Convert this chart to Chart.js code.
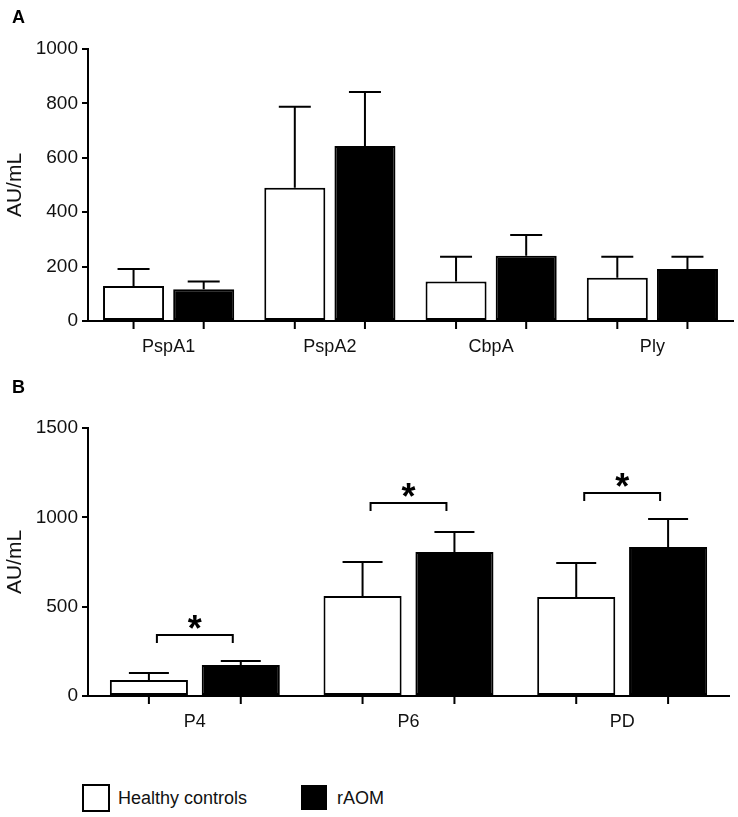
<!DOCTYPE html>
<html>
<head>
<meta charset="utf-8">
<script src="https://cdn.jsdelivr.net/npm/chart.js@4"></script>
<style>
    body { margin: 0; background: #fff; width: 738px; height: 817px; position: relative; overflow: hidden;
           font-family: "Liberation Sans", Arial, sans-serif; }
    canvas { position: absolute; left: 0; }
    #chartA { top: 0; }
    #chartB { top: 370px; }
    .legend-item { position: absolute; font-size: 18px; color: #111; line-height: 18px; }
    .legend-box { position: absolute; box-sizing: border-box; border: 2px solid #000; }
</style>
</head>
<body>
<canvas id="chartA" width="738" height="380"></canvas>
<canvas id="chartB" width="738" height="400"></canvas>

<div class="legend-box" style="left:82px; top:784px; width:28px; height:28px; background:#fff;"></div>
<div class="legend-item" style="left:118px; top:789px;">Healthy controls</div>
<div class="legend-box" style="left:301px; top:785px; width:26px; height:25px; background:#000;"></div>
<div class="legend-item" style="left:337px; top:789px;">rAOM</div>

<script>
// Panel A
const categoriesA = ['PspA1', 'PspA2', 'CbpA', 'Ply'];
const healthyA = [129, 490, 145, 159];
const raomA = [117, 643, 240, 191];
const healthyErrA = [62, 298, 91, 77];
const raomErrA = [28, 199, 76, 45];
const ticksA = [0, 200, 400, 600, 800, 1000];

// Panel B
const categoriesB = ['P4', 'P6', 'PD'];
const healthyB = [90, 560, 554];
const raomB = [173, 806, 834];
const healthyErrB = [39, 190, 190];
const raomErrB = [23, 112, 156];
const ticksB = [0, 500, 1000, 1500];
// y level of the significance bracket for each group
const sigLevelB = [341, 1080, 1136];

const FONT = '"Liberation Sans", Arial, sans-serif';

// error bars (upper only) + small ticks under each bar + panel letter + brackets
const extras = {
    id: 'extras',
    afterDatasetsDraw(chart, args, opts) {
        const ctx = chart.ctx;
        const y = chart.scales.y;
        const bottom = chart.chartArea.bottom;
        ctx.save();
        ctx.strokeStyle = '#000';
        ctx.lineWidth = 2;
        chart.data.datasets.forEach((ds, i) => {
            const meta = chart.getDatasetMeta(i);
            meta.data.forEach((bar, j) => {
                const top = y.getPixelForValue(ds.data[j] + ds.errors[j]);
                ctx.beginPath();
                ctx.moveTo(bar.x, bar.y);
                ctx.lineTo(bar.x, top);
                ctx.moveTo(bar.x - opts.cap / 2, top);
                ctx.lineTo(bar.x + opts.cap / 2, top);
                // x tick below bar
                ctx.moveTo(bar.x, bottom);
                ctx.lineTo(bar.x, bottom + 8);
                ctx.stroke();
            });
        });

        // significance brackets
        if (opts.sig) {
            const m0 = chart.getDatasetMeta(0), m1 = chart.getDatasetMeta(1);
            opts.sig.forEach((lvl, j) => {
                const x0 = m0.data[j].x + 8, x1 = m1.data[j].x - 8;
                const yy = y.getPixelForValue(lvl);
                ctx.beginPath();
                ctx.moveTo(x0, yy + 8);
                ctx.lineTo(x0, yy);
                ctx.lineTo(x1, yy);
                ctx.lineTo(x1, yy + 8);
                ctx.stroke();
                ctx.fillStyle = '#000';
                ctx.font = 'bold 36px ' + FONT;
                ctx.textAlign = 'center';
                ctx.textBaseline = 'alphabetic';
                ctx.fillText('*', (x0 + x1) / 2, yy + 6);
            });
        }

        ctx.fillStyle = '#000';
        ctx.font = 'bold 18px ' + FONT;
        ctx.textAlign = 'left';
        ctx.textBaseline = 'top';
        ctx.fillText(opts.letter, 12, 9);
        ctx.restore();
    }
};

function makeChart(id, cats, h, r, he, re, ticks, cfg) {
    return new Chart(document.getElementById(id), {
        type: 'bar',
        data: {
            labels: cats,
            datasets: [
                { label: 'Healthy controls', data: h, errors: he, backgroundColor: '#fff' },
                { label: 'rAOM', data: r, errors: re, backgroundColor: '#000' }
            ]
        },
        options: {
            responsive: false,
            animation: false,
            layout: { padding: { top: cfg.top, right: cfg.right, left: 0, bottom: 0 } },
            datasets: {
                bar: {
                    borderColor: '#000',
                    borderWidth: 2,
                    borderSkipped: false,
                    categoryPercentage: cfg.cp,
                    barPercentage: cfg.bp
                }
            },
            plugins: {
                legend: { display: false },
                tooltip: { enabled: false },
                extras: { cap: cfg.cap, letter: cfg.letter, sig: cfg.sig }
            },
            scales: {
                x: {
                    afterFit: (s) => { s.height = cfg.xh; },
                    grid: { display: false },
                    border: { display: true, color: '#000', width: 2 },
                    ticks: { color: '#111', font: { size: 18, family: FONT }, padding: 7 }
                },
                y: {
                    min: 0,
                    max: ticks[ticks.length - 1],
                    afterFit: (s) => { s.width = 88; },
                    afterBuildTicks: (s) => { s.ticks = ticks.map(v => ({ value: v })); },
                    grid: { drawOnChartArea: false, drawTicks: true, tickLength: 6, color: '#000', lineWidth: 2 },
                    border: { display: true, color: '#000', width: 2 },
                    ticks: {
                        color: '#111', font: { size: 19, family: FONT }, padding: 4,
                        callback: (v) => String(v)
                    },
                    title: {
                        display: true, text: 'AU/mL', color: '#111',
                        font: { size: 21, family: FONT }, padding: { top: 3, bottom: 0 }
                    }
                }
            }
        },
        plugins: [extras]
    });
}

makeChart('chartA', categoriesA, healthyA, raomA, healthyErrA, raomErrA, ticksA,
    { top: 49, right: 5, xh: 59, cp: 0.87, bp: 0.87, cap: 32, letter: 'A' });
makeChart('chartB', categoriesB, healthyB, raomB, healthyErrB, raomErrB, ticksB,
    { top: 58, right: 9, xh: 74, cp: 0.86, bp: 0.85, cap: 40, letter: 'B', sig: sigLevelB });
</script>
</body>
</html>
